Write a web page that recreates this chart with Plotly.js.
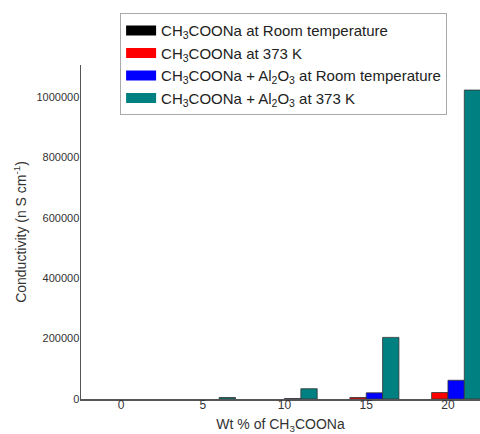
<!DOCTYPE html>
<html>
<head>
<meta charset="utf-8">
<script src="https://cdn.plot.ly/plotly-3.0.1.min.js"></script>
<style>html,body{margin:0;padding:0;background:#fff;}#chart{width:480px;height:434px;}</style>
</head>
<body>
<div id="chart"></div>
<script>
const wtPercent = [0, 5, 10, 15, 20];
const naRoom = [0, 0, 0, 0, 0];
const na373 = [0, 0, 0, 5000, 21500];
const naAlRoom = [0, 0, 1500, 20500, 62000];
const naAl373 = [0, 5000, 34000, 204000, 1023000];
const seriesNames = [
  'CH<sub>3</sub>COONa at Room temperature',
  'CH<sub>3</sub>COONa at 373 K',
  'CH<sub>3</sub>COONa + Al<sub>2</sub>O<sub>3</sub> at Room temperature',
  'CH<sub>3</sub>COONa + Al<sub>2</sub>O<sub>3</sub> at 373 K'
];
const seriesValues = [naRoom, na373, naAlRoom, naAl373];
const colors = ['#000000', '#ff0000', '#0000ff', '#008080'];

const traces = [];
seriesValues.forEach((vals, i) => {
  traces.push({
    type: 'bar', x: wtPercent, y: vals, name: seriesNames[i],
    marker: {color: colors[i], line: {color: '#333', width: vals.map(v => v > 0 ? 0.8 : 0)}},
    showlegend: false, hoverinfo: 'x+y'
  });
});
seriesValues.forEach((vals, i) => {
  traces.push({
    type: 'scatter', mode: 'lines', x: [null], y: [null], name: seriesNames[i],
    line: {color: colors[i], width: 13}, legendgroup: 'g' + i, showlegend: true
  });
});

const font = 'Liberation Sans, Arial, sans-serif';
const layout = {
  template: 'none',
  width: 480, height: 434,
  margin: {l: 81, r: 0, t: 65, b: 35},
  paper_bgcolor: '#fff', plot_bgcolor: '#fff',
  font: {family: font, color: '#333', size: 12},
  barmode: 'group', bargap: 0.2, bargroupgap: 0,
  showlegend: true,
  legend: {
    x: 0.098, y: 1.155, xanchor: 'left', yanchor: 'top',
    bgcolor: '#fff', bordercolor: '#aaa', borderwidth: 1,
    font: {family: font, size: 15, color: '#222'},
    traceorder: 'grouped', tracegroupgap: 0, itemwidth: 30
  },
  xaxis: {
    range: [-2.45, 21.96], tickvals: wtPercent, ticktext: wtPercent.map(String),
    showgrid: false, zeroline: false, showline: true, linecolor: '#555', linewidth: 1.5,
    ticks: '', ticklabelstandoff: -6,
    tickfont: {family: font, size: 12, color: '#333'},
    title: {text: 'Wt % of CH<sub>3</sub>COONa', font: {family: font, size: 14, color: '#333'}, standoff: 14}
  },
  yaxis: {
    range: [0, 1106000], dtick: 200000, tickformat: 'd',
    showgrid: false, zeroline: false, showline: true, linecolor: '#555', linewidth: 1.5,
    ticks: '', ticklabelstandoff: -2,
    tickfont: {family: font, size: 11, color: '#333'},
    title: {text: 'Conductivity (n S cm<sup>-1</sup>)', font: {family: font, size: 14, color: '#333'}, standoff: 6}
  }
};
Plotly.newPlot('chart', traces, layout, {displayModeBar: false, staticPlot: true});
</script>
</body>
</html>
